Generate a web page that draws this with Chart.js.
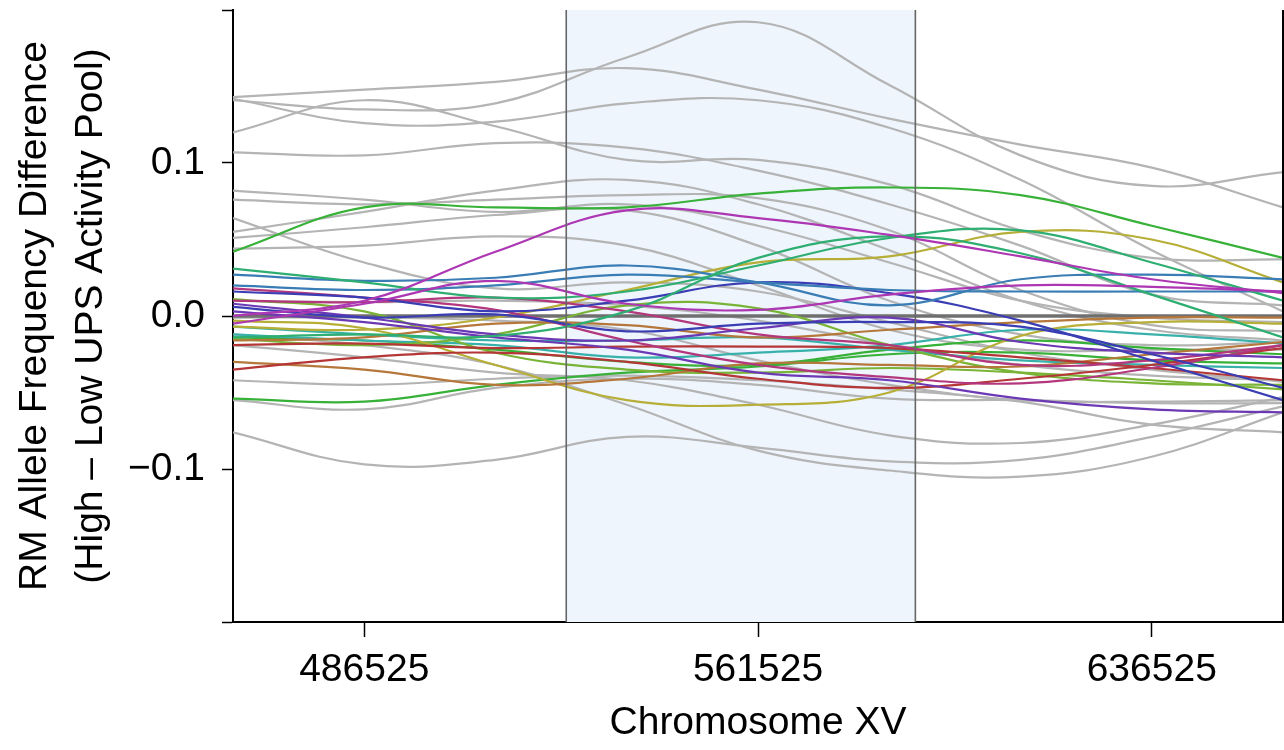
<!DOCTYPE html>
<html lang="en">
<head>
  <meta charset="UTF-8" />
  <title>RM Allele Frequency Difference - Chromosome XV</title>
  <script src="https://cdn.jsdelivr.net/npm/chart.js@4"></script>
  <style>
    body { margin: 0; background: #fff; }
    .chart-container { width: 1284px; height: 750px; }
  </style>
</head>
<body>
  <div class="chart-container">
    <canvas id="afdChart"></canvas>
  </div>

  <script>
    // positions along chromosome XV where each curve was read
    const positions = [461525, 486525, 511525, 536525, 561525, 586525, 611525, 636525, 661525];
    const xTicks = [486525, 561525, 636525];
    const yTicks = [-0.2, -0.1, 0, 0.1, 0.2];
    const qtlStart = 525000;
    const qtlEnd = 591500;

    // grey (background) replicates
    const grey1  = [0.141, 0.135, 0.139, 0.169, 0.192, 0.151, 0.105, 0.085, 0.094];
    const grey2  = [0.143, 0.148, 0.153, 0.162, 0.148, 0.129, 0.112, 0.097, 0.071];
    const grey3  = [0.142, 0.126, 0.127, 0.139, 0.141, 0.123, 0.089, 0.043, 0.003];
    const grey4  = [0.120, 0.141, 0.124, 0.102, 0.102, 0.086, 0.056, 0.038, 0.037];
    const grey5  = [0.107, 0.105, 0.113, 0.110, 0.095, 0.073, 0.046, 0.014, 0.007];
    const grey6  = [0.082, 0.076, 0.068, 0.073, 0.059, 0.035, 0.010, -0.001, -0.004];
    const grey7  = [0.076, 0.073, 0.076, 0.079, 0.077, 0.056, 0.017, -0.006, -0.010];
    const grey8  = [0.064, 0.035, 0.018, 0.022, 0.016, -0.004, -0.024, -0.035, -0.043];
    const grey9  = [0.055, 0.068, 0.082, 0.089, 0.073, 0.043, 0.010, -0.009, -0.016];
    const grey10 = [0.051, 0.058, 0.066, 0.069, 0.046, 0.010, -0.012, -0.019, -0.017];
    const grey11 = [0.044, 0.046, 0.052, 0.046, 0.020, -0.009, -0.022, -0.022, -0.022];
    const grey12 = [-0.019, -0.027, -0.037, -0.042, -0.058, -0.078, -0.083, -0.071, -0.053];
    const grey13 = [-0.012, -0.019, -0.032, -0.058, -0.088, -0.101, -0.105, -0.092, -0.063];
    const grey14 = [-0.076, -0.097, -0.094, -0.079, -0.086, -0.095, -0.094, -0.079, -0.059];
    const grey15 = [-0.055, -0.061, -0.047, -0.041, -0.045, -0.054, -0.055, -0.057, -0.057];
    const grey16 = [-0.001, -0.001, -0.003, -0.009, -0.029, -0.045, -0.055, -0.056, -0.055];
    const grey17 = [0.010, 0.009, 0.010, 0.007, -0.003, -0.019, -0.032, -0.039, -0.042];
    const grey18 = [-0.042, -0.045, -0.041, -0.039, -0.042, -0.048, -0.056, -0.071, -0.076];

    // coloured replicates
    const greenHigh   = [0.042, 0.071, 0.071, 0.071, 0.080, 0.084, 0.079, 0.059, 0.038];
    const magenta1    = [0.000, 0.010, 0.042, 0.069, 0.064, 0.053, 0.039, 0.024, 0.015];
    const magenta2    = [-0.005, 0.008, 0.023, 0.008, 0.004, 0.014, 0.020, 0.019, 0.016];
    const seaGreen1   = [0.031, 0.022, 0.012, 0.016, 0.033, 0.051, 0.056, 0.035, 0.010];
    const seaGreen2   = [-0.014, -0.012, -0.013, 0.003, 0.038, 0.052, 0.041, 0.014, -0.014];
    const steelBlue1  = [0.027, 0.023, 0.025, 0.033, 0.022, 0.007, 0.024, 0.027, 0.024];
    const steelBlue2  = [0.020, 0.017, 0.020, 0.027, 0.022, 0.017, 0.016, 0.016, 0.016];
    const navy1       = [0.016, 0.012, 0.003, 0.010, 0.022, 0.015, -0.003, -0.029, -0.055];
    const navy2       = [0.006, -0.001, 0.001, -0.010, -0.005, -0.004, -0.007, -0.025, -0.047];
    const violet1     = [0.003, -0.004, -0.014, -0.022, -0.037, -0.042, -0.054, -0.061, -0.063];
    const violet2     = [0.008, -0.001, -0.012, -0.016, -0.008, -0.001, -0.017, -0.024, -0.027];
    const rose1       = [0.018, 0.012, 0.004, -0.016, -0.032, -0.040, -0.044, -0.034, -0.019];
    const rose2       = [0.010, 0.009, 0.012, 0.003, -0.012, -0.019, -0.032, -0.029, -0.019];
    const red1        = [-0.019, -0.018, -0.021, -0.020, -0.020, -0.021, -0.027, -0.034, -0.042];
    const red2        = [-0.035, -0.027, -0.024, -0.030, -0.041, -0.047, -0.041, -0.032, -0.021];
    const brown1      = [-0.030, -0.035, -0.045, -0.041, -0.031, -0.032, -0.033, -0.025, -0.017];
    const brown2      = [-0.016, -0.014, -0.005, -0.006, -0.014, -0.009, -0.004, -0.001, -0.001];
    const olive1      = [-0.003, -0.008, -0.032, -0.055, -0.058, -0.050, -0.013, -0.004, -0.005];
    const olive2      = [-0.007, -0.009, -0.001, 0.017, 0.035, 0.039, 0.055, 0.050, 0.022];
    const lime1       = [0.011, 0.003, -0.024, -0.035, -0.037, -0.034, -0.037, -0.042, -0.048];
    const lime2       = [-0.015, -0.019, -0.012, 0.007, 0.005, -0.019, -0.037, -0.044, -0.045];
    const teal1       = [-0.012, -0.016, -0.019, -0.027, -0.024, -0.019, -0.009, -0.012, -0.018];
    const teal2       = [-0.007, -0.012, -0.016, -0.016, -0.014, -0.022, -0.029, -0.032, -0.034];
    const greenLow    = [-0.054, -0.056, -0.045, -0.037, -0.033, -0.025, -0.024, -0.029, -0.031];
    const greenMid    = [-0.014, -0.016, -0.022, -0.030, -0.032, -0.022, -0.016, -0.021, -0.025];

    const greySeries = [grey1, grey2, grey3, grey4, grey5, grey6, grey7, grey8, grey9,
      grey10, grey11, grey12, grey13, grey14, grey15, grey16, grey17, grey18];

    const colourSeries = [greenHigh, magenta1, magenta2, seaGreen1, seaGreen2, steelBlue1,
      steelBlue2, navy1, navy2, violet1, violet2, rose1, rose2, red1, red2, brown1, brown2,
      olive1, olive2, lime1, lime2, teal1, teal2, greenLow, greenMid];
    const colourList = ['#38b138', '#ad37b3', '#ad37b3', '#2fae72', '#2fae72', '#3a7db5',
      '#3a7db5', '#3a3db3', '#3a3db3', '#6c39b5', '#6c39b5', '#b3377c', '#b3377c', '#b53636',
      '#b53636', '#b5773a', '#b5773a', '#b6ae36', '#b6ae36', '#79b437', '#79b437', '#38b1aa',
      '#38b1aa', '#38b138', '#38b138'];

    const FONT = '"Liberation Sans", Arial, Helvetica, sans-serif';

    function toPoints(values) {
      return positions.map((x, i) => ({ x: x, y: values[i] }));
    }

    const datasets = [];
    colourSeries.forEach((s, i) => {
      datasets.push({
        data: toPoints(s), borderColor: colourList[i], borderWidth: 2.2,
        pointRadius: 0, tension: 0.4, fill: false, order: 1
      });
    });
    datasets.push({
      data: [{ x: positions[0], y: 0 }, { x: positions[positions.length - 1], y: 0 }],
      borderColor: '#6f6f6f', borderWidth: 3.5, pointRadius: 0, order: 2
    });
    greySeries.forEach(s => {
      datasets.push({
        data: toPoints(s), borderColor: '#b4b4b4', borderWidth: 2.2,
        pointRadius: 0, tension: 0.4, fill: false, order: 3
      });
    });

    // shaded QTL interval + frame line on the right
    const qtlShade = {
      id: 'qtlShade',
      beforeDatasetsDraw(chart) {
        const { ctx, chartArea, scales } = chart;
        const x0 = scales.x.getPixelForValue(qtlStart);
        const x1 = scales.x.getPixelForValue(qtlEnd);
        ctx.save();
        ctx.fillStyle = '#eef5fd';
        ctx.fillRect(x0, chartArea.top, x1 - x0, chartArea.bottom - chartArea.top);
        ctx.restore();
      },
      afterDatasetsDraw(chart) {
        const { ctx, chartArea, scales } = chart;
        const x0 = scales.x.getPixelForValue(qtlStart);
        const x1 = scales.x.getPixelForValue(qtlEnd);
        ctx.save();
        ctx.strokeStyle = '#666666';
        ctx.lineWidth = 1.6;
        ctx.beginPath();
        ctx.moveTo(x0, chartArea.top); ctx.lineTo(x0, chartArea.bottom);
        ctx.moveTo(x1, chartArea.top); ctx.lineTo(x1, chartArea.bottom);
        ctx.stroke();
        ctx.strokeStyle = '#000';
        ctx.lineWidth = 2;
        ctx.beginPath();
        ctx.moveTo(chartArea.right, chartArea.top);
        ctx.lineTo(chartArea.right, chartArea.bottom);
        ctx.stroke();
        ctx.restore();
      }
    };

    new Chart(document.getElementById('afdChart'), {
      type: 'line',
      data: { datasets: datasets },
      options: {
        responsive: true,
        maintainAspectRatio: false,
        animation: false,
        layout: { padding: { top: 10, right: 1, left: 0, bottom: 0 } },
        plugins: { legend: { display: false }, tooltip: { enabled: false } },
        scales: {
          x: {
            type: 'linear',
            min: 461525,
            max: 661525,
            afterFit(scale) { scale.height = 128; scale.paddingLeft = 0; scale.paddingRight = 0; },
            afterBuildTicks(scale) { scale.ticks = xTicks.map(v => ({ value: v })); },
            ticks: {
              color: '#000', padding: 10, maxRotation: 0,
              font: { family: FONT, size: 39 },
              callback: v => String(v)
            },
            grid: { drawOnChartArea: false, tickLength: 15, tickColor: '#000', tickWidth: 1.5 },
            border: { color: '#000', width: 2 },
            title: {
              display: true, text: 'Chromosome XV', color: '#000',
              font: { family: FONT, size: 39, lineHeight: 1.2 },
              padding: { top: 0, bottom: 3 }
            }
          },
          y: {
            min: -0.2,
            max: 0.2,
            afterFit(scale) { scale.width = 233; scale.paddingTop = 0; scale.paddingBottom = 0; },
            afterBuildTicks(scale) { scale.ticks = yTicks.map(v => ({ value: v })); },
            ticks: {
              color: '#000', padding: 17,
              font: { family: FONT, size: 39 },
              callback: v => {
                if (Math.abs(v) > 0.15) return '';
                if (Math.abs(v) < 1e-9) return '0.0';
                return (v < 0 ? '\u2212' : '') + Math.abs(v).toFixed(1);
              }
            },
            grid: { drawOnChartArea: false, tickLength: 11, tickColor: '#000', tickWidth: 1.5 },
            border: { color: '#000', width: 2 },
            title: {
              display: true,
              text: ['RM Allele Frequency Difference', '(High \u2013 Low UPS Activity Pool)'],
              color: '#000',
              font: { family: FONT, size: 39, lineHeight: 1.42 },
              padding: { top: 8, bottom: 0 }
            }
          }
        }
      },
      plugins: [qtlShade]
    });
  </script>
</body>
</html>
